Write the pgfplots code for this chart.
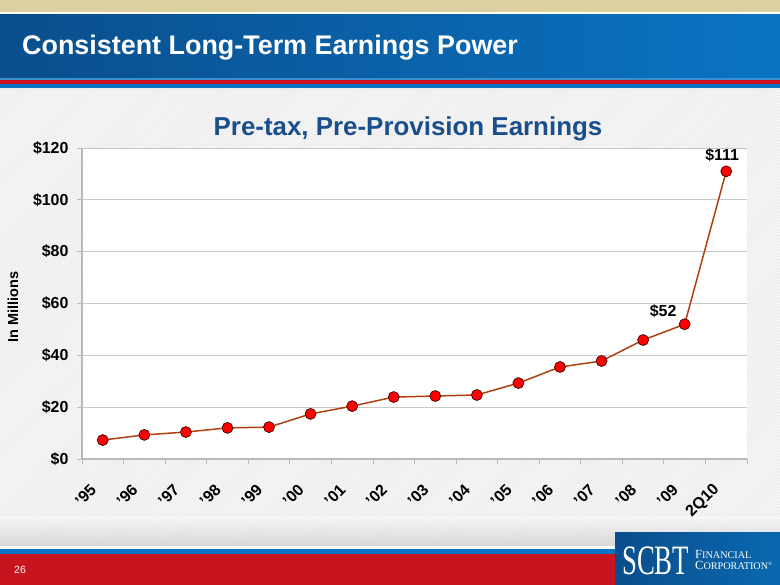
\documentclass[border=0pt]{standalone}
\usepackage{pgfplots}
\pgfplotsset{compat=1.18}
\usepackage{fontspec}
\setmainfont{Liberation Sans}
\newfontfamily\seriffont{Liberation Serif}
\usetikzlibrary{patterns,shadows}
\definecolor{beige}{HTML}{DDD0A0}
\definecolor{bandL}{HTML}{0A4E8C}
\definecolor{bandR}{HTML}{0A74C4}
\definecolor{slidered}{HTML}{C8141E}
\definecolor{titleblue}{HTML}{1A4F8C}
\definecolor{linebrown}{HTML}{B0400F}
\definecolor{gridgray}{HTML}{C8C8C8}
\pgfplotstableread{
x y
0 7.3
1 9.3
2 10.4
3 12.0
4 12.3
5 17.4
6 20.4
7 23.9
8 24.3
9 24.7
10 29.3
11 35.5
12 37.8
13 45.9
14 52.0
15 111.0
}\earnings
\begin{document}
\begin{tikzpicture}[x=1bp,y=1bp]
% background
\fill[gray!6] (0,0) rectangle (780,585);
\fill[pattern=north east lines, pattern color=gray!22] (0,0) rectangle (780,585);
\shade[top color=gray!5, bottom color=gray!45, opacity=0.6] (0,38) rectangle (780,68);
\fill[white] (0,36) rectangle (780,39);
\fill[bandR] (0,31) rectangle (780,36);
\fill[slidered] (0,0) rectangle (780,31);
\node[text=white, font=\fontsize{10.5}{12}\selectfont, anchor=base west, inner sep=0pt] at (14,11) {26};
% header
\fill[beige] (0,573) rectangle (780,585);
\fill[white] (0,570) rectangle (780,573);
\shade[left color=bandL, right color=bandR] (0,507) rectangle (780,570);
\fill[bandR!80!white] (0,505) rectangle (780,507);
\fill[slidered!90!red] (0,501) rectangle (780,505);
\fill[bandR] (0,497) rectangle (780,501);
\fill[white!85!gray] (0,495) rectangle (780,497);
\node[text=white, font=\bfseries\fontsize{27}{30}\selectfont, anchor=base west, inner sep=0pt] at (22,530) {Consistent Long-Term Earnings Power};
% logo
\shade[left color=bandL, right color=bandR!90!black] (615,0) rectangle (780,52);
\node[text=white, font=\seriffont\fontsize{42}{42}\selectfont, anchor=base west, inner sep=0pt, xscale=0.64] at (622,10) {SCBT};
\node[text=white, font=\seriffont\fontsize{12.5}{12}\selectfont, anchor=base west, inner sep=0pt] at (695,26) {F\scalebox{0.82}{INANCIAL}};
\node[text=white, font=\seriffont\fontsize{12.5}{12}\selectfont, anchor=base west, inner sep=0pt] at (695,15) {C\scalebox{0.82}{ORPORATION}\textsuperscript{\tiny\textregistered}};
% chart title
\node[text=titleblue, font=\bfseries\fontsize{26}{29}\selectfont, anchor=base, inner sep=0pt] at (408,449) {Pre-tax, Pre-Provision Earnings};
\node[rotate=90, font=\bfseries\fontsize{14.5}{16}\selectfont, inner sep=0pt] at (13,278) {In Millions};
\begin{axis}[
  at={(82bp,126bp)}, anchor=south west,
  width=665bp, height=311bp, scale only axis,
  xmin=-0.5, xmax=15.5, ymin=0, ymax=120,
  axis background/.style={fill=white},
  axis lines*=left,
  x axis line style={draw=gray!55, line width=1.6pt},
  y axis line style={draw=gray!55, line width=2.2pt},
  ytick={0,20,...,120},
  yticklabel={\$\pgfmathprintnumber{\tick}},
  y tick label style={font=\bfseries\fontsize{16}{18}\selectfont, /pgf/number format/assume math mode=true, xshift=-5bp},
  ymajorgrids, grid style={draw=gridgray, line width=0.8pt},
  xtick={0,...,15},
  xticklabels={’95,’96,’97,’98,’99,’00,’01,’02,’03,’04,’05,’06,’07,’08,’09,2Q10},
  x tick label style={xshift=-7bp, yshift=-21bp, rotate=45, anchor=east, font=\bfseries\fontsize{16}{18}\selectfont},
  minor xtick={-0.5,0.5,...,15.5},
  major tick length=5bp, minor tick length=5bp,
  tick align=outside,
  x tick style={draw=none},
  minor x tick style={draw=gray!55, line width=0.8pt},
  y tick style={draw=gray!55, line width=0.8pt},
  clip=false,
]
\addplot[color=linebrown, line width=1.5pt, mark=*, mark size=5.5pt,
  mark options={fill=red, draw=red!25!black, line width=0.7pt, drop shadow={shadow xshift=1.2pt, shadow yshift=-1.2pt, opacity=0.8}}]
  table[x=x,y=y] {\earnings};
\node[anchor=south east, font=\bfseries\fontsize{16}{18}\selectfont, inner sep=0pt] at (axis cs:14,52) [xshift=-8bp, yshift=6bp] {\$52};
\node[anchor=south, font=\bfseries\fontsize{16}{18}\selectfont, inner sep=0pt] at (axis cs:15,111) [xshift=-4bp, yshift=9bp] {\$111};
\end{axis}
\end{tikzpicture}
\end{document}
